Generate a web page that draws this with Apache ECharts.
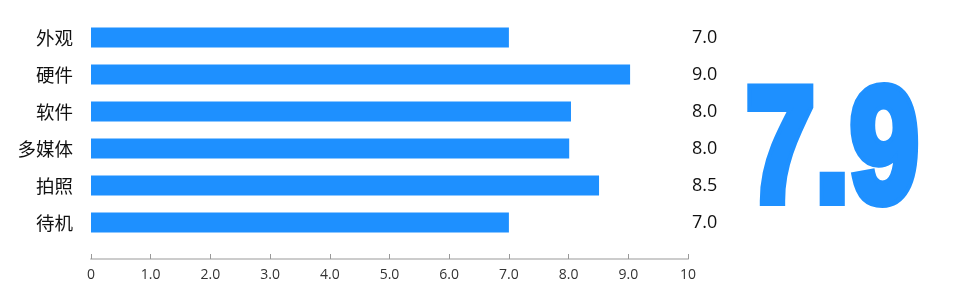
<!DOCTYPE html>
<html>
<head>
<meta charset="utf-8">
<style>html,body{margin:0;padding:0;background:#fff}#c{width:960px;height:300px}</style>
<script src="https://cdn.jsdelivr.net/npm/echarts@6/dist/echarts.min.js"></script>
</head>
<body>
<div id="c"></div>
<script>
const categories = ['外观', '硬件', '软件', '多媒体', '拍照', '待机'];
const scores = [7.0, 9.03, 8.04, 8.01, 8.51, 7.0];
const xTickLabels = ['0', '1.0', '2.0', '3.0', '4.0', '5.0', '6.0', '7.0', '8.0', '9.0', '10'];
const overallScore = '7.9';

const chart = echarts.init(document.getElementById('c'), null, { renderer: 'canvas' });
chart.setOption({
  animation: false,
  grid: { left: 91, right: 272, top: 19, bottom: 59, containLabel: false },
  xAxis: {
    type: 'value', min: 0, max: 10, interval: 1, offset: 18,
    axisLine: { show: true, lineStyle: { color: '#cccccc', width: 2 } },
    axisTick: { show: true, inside: true, length: 5, lineStyle: { color: '#999999', width: 1 } },
    splitLine: { show: false },
    axisLabel: {
      color: '#333', fontSize: 14, margin: 9,
      fontFamily: '"Open Sans", "Noto Sans", sans-serif',
      formatter: (v) => xTickLabels[Math.round(v)]
    }
  },
  yAxis: [
    {
      type: 'category', data: categories, inverse: true,
      axisLine: { show: false }, axisTick: { show: false }, splitLine: { show: false },
      axisLabel: { color: '#111', fontSize: 18.5, margin: 18, fontFamily: '"Noto Sans CJK SC", sans-serif' }
    },
    {
      type: 'category', data: scores.map(v => v.toFixed(1)), inverse: true, position: 'right',
      axisLine: { show: false }, axisTick: { show: false }, splitLine: { show: false },
      axisLabel: { color: '#111', fontSize: 18, margin: 4, fontFamily: '"Open Sans", "Noto Sans", sans-serif' }
    }
  ],
  series: [{
    type: 'bar', data: scores, barWidth: 20, yAxisIndex: 0,
    itemStyle: { color: '#1e90ff' }
  }],
  graphic: [{
    type: 'text',
    left: 742, top: 69,
    scaleX: 0.755, scaleY: 0.99,
    style: {
      text: overallScore,
      font: 'bold 165px "Liberation Sans", sans-serif',
      fill: '#1e90ff', stroke: '#1e90ff', lineWidth: 10, lineJoin: 'miter'
    }
  }]
});
</script>
</body>
</html>
